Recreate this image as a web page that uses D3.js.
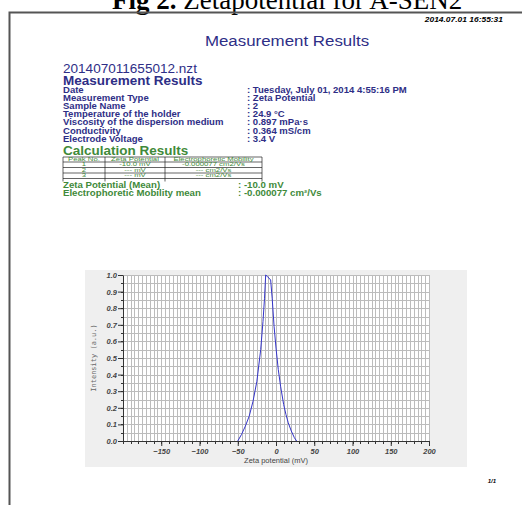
<!DOCTYPE html>
<html>
<head>
<meta charset="utf-8">
<script src="https://cdn.jsdelivr.net/npm/d3@7"></script>
<style>
  body { margin: 0; background: #fff; }
  svg { display: block; font-family: "Liberation Sans", Arial, sans-serif; }
</style>
</head>
<body>
<script>
// ---- data ----
var infoLabels = ["Date", "Measurement Type", "Sample Name", "Temperature of the holder",
                  "Viscosity of the dispersion medium", "Conductivity", "Electrode Voltage"];
var infoValues = ["Tuesday, July 01, 2014 4:55:16 PM", "Zeta Potential", "2", "24.9 \u00b0C",
                  "0.897 mPa\u00b7s", "0.364 mS/cm", "3.4 V"];
var tableHeader = ["Peak No.", "Zeta Potential", "Electrophoretic Mobility"];
var tableRows = [["1", "-10.0 mV", "-0.000077 cm2/Vs"],
                 ["2", "--- mV", "--- cm2/Vs"],
                 ["3", "--- mV", "--- cm2/Vs"]];
var meanLabels = ["Zeta Potential (Mean)", "Electrophoretic Mobility mean"];
var meanValues = ["-10.0 mV", "-0.000077 cm\u00b2/Vs"];

// distribution curve
var zeta = [-50, -45, -40, -35, -30, -25, -20, -17, -15, -13.5, -11, -7, -5, -2.5, 0, 3, 6, 10, 13, 16, 20, 24, 27];
var intensity = [0, 0.04, 0.09, 0.15, 0.24, 0.36, 0.55, 0.72, 0.86, 1.0, 0.99, 0.97, 0.86, 0.69, 0.56, 0.43, 0.33, 0.22, 0.16, 0.11, 0.06, 0.02, 0];
var xTicks = [-150, -100, -50, 0, 50, 100, 150, 200];
var yTicks = [0, 0.1, 0.2, 0.3, 0.4, 0.5, 0.6, 0.7, 0.8, 0.9, 1.0];

var w = 522, h = 505;
var navy = "#2e2e86", green = "#3f8a3a";

var svg = d3.select("body").append("svg")
            .attr("width", w)
            .attr("height", h);

// text helper: the report font is wider than it is tall, so stretch it sideways
function put(g, x, y, txt, size, sx, fill, weight) {
  return g.append("text")
          .attr("transform", "translate(" + x + "," + y + ") scale(" + sx + ",1)")
          .attr("fill", fill || "#000")
          .style("font-size", size + "px")
          .style("font-weight", weight || "normal")
          .text(txt);
}

// figure caption (cut off at top)
svg.append("text")
   .attr("x", 112).attr("y", 9)
   .style("font-family", "'Liberation Serif', 'Times New Roman', serif")
   .style("font-size", "27px")
   .html("<tspan font-weight='bold'>Fig 2.</tspan> Zetapotential for A-SEN2");

// page frame
svg.append("path")
   .attr("d", "M9.5,505 V12.5 H522")
   .attr("fill", "none")
   .attr("stroke", "#555")
   .attr("stroke-width", 2);

// timestamp + header
put(svg, 503, 22, "2014.07.01 16:55:31", 6.5, 1.3, "#000", "bold")
   .attr("text-anchor", "end").style("font-style", "italic");

put(svg, 287, 46, "Measurement Results", 15.5, 1.09, navy)
   .attr("text-anchor", "middle");

put(svg, 63, 72.5, "201407011655012.nzt", 12, 1.13, navy);
put(svg, 63, 85, "Measurement Results", 12.5, 1.08, navy, "bold");

// info block
var info = svg.append("g");
infoLabels.forEach(function(d, i) {
  put(info, 63, 92.5 + i * 8.2, d, 8.3, 1.15, navy, "bold");
  put(info, 247, 92.5 + i * 8.2, ":  " + infoValues[i], 8.3, 1.15, navy, "bold");
});

put(svg, 63, 155, "Calculation Results", 12.5, 1.08, green, "bold");

// results table
var colX = [63, 105, 165, 262];
var rowY = [157, 162, 167.5, 173, 178.5];
var table = svg.append("g");
table.selectAll(".hl").data(rowY).enter().append("line")
     .attr("x1", colX[0]).attr("x2", colX[3])
     .attr("y1", function(d) { return d; }).attr("y2", function(d) { return d; })
     .attr("stroke", "#222").attr("stroke-width", 0.7);
table.selectAll(".vl").data(colX).enter().append("line")
     .attr("x1", function(d) { return d; }).attr("x2", function(d) { return d; })
     .attr("y1", rowY[0]).attr("y2", rowY[4] + 3)
     .attr("stroke", "#222").attr("stroke-width", 0.7);
var allRows = [tableHeader].concat(tableRows);
allRows.forEach(function(r, i) {
  r.forEach(function(c, j) {
    put(table, (colX[j] + colX[j + 1]) / 2, rowY[i] + 4.1, c, 5, 1.55, green)
      .attr("text-anchor", "middle");
  });
});

// means
var means = svg.append("g");
meanLabels.forEach(function(d, i) {
  put(means, 63, 187.5 + i * 8.6, d, 8.4, 1.15, green, "bold");
  put(means, 238, 187.5 + i * 8.6, ":  " + meanValues[i], 8.4, 1.15, green, "bold");
});

// ---- chart ----
svg.append("rect")
   .attr("x", 85).attr("y", 270)
   .attr("width", 382).attr("height", 197)
   .attr("fill", "#efefef");

var x = d3.scaleLinear().domain([-200, 200]).range([123, 429]);
var y = d3.scaleLinear().domain([0, 1]).range([441, 275]);

svg.append("rect")
   .attr("x", x(-200)).attr("y", y(1))
   .attr("width", x(200) - x(-200)).attr("height", y(0) - y(1))
   .attr("fill", "#fff");

var grid = svg.append("g").attr("stroke", "#bcbcbc").attr("stroke-width", 1);
grid.selectAll(".gx").data(d3.range(-200, 201, 5)).enter().append("line")
    .attr("x1", function(d) { return Math.round(x(d)) + 0.5; })
    .attr("x2", function(d) { return Math.round(x(d)) + 0.5; })
    .attr("y1", y(1)).attr("y2", y(0));
grid.selectAll(".gy").data(d3.range(0, 21).map(function(i) { return i * 0.05; })).enter().append("line")
    .attr("y1", function(d) { return Math.round(y(d)) + 0.5; })
    .attr("y2", function(d) { return Math.round(y(d)) + 0.5; })
    .attr("x1", x(-200)).attr("x2", x(200));

// minor ticks
var minor = svg.append("g").attr("stroke", "#333").attr("stroke-width", 1);
minor.selectAll(".mx").data(d3.range(-200, 201, 10)).enter().append("line")
     .attr("x1", function(d) { return Math.round(x(d)) + 0.5; })
     .attr("x2", function(d) { return Math.round(x(d)) + 0.5; })
     .attr("y1", y(0)).attr("y2", y(0) + 3);
minor.selectAll(".my").data(d3.range(0, 20).map(function(i) { return i * 0.05 + 0.05; })).enter().append("line")
     .attr("y1", function(d) { return Math.round(y(d)) + 0.5; })
     .attr("y2", function(d) { return Math.round(y(d)) + 0.5; })
     .attr("x1", x(-200) - 2).attr("x2", x(-200));

var xAxis = svg.append("g")
               .attr("transform", "translate(0," + y(0) + ")")
               .call(d3.axisBottom(x).tickValues(xTicks).tickSize(5).tickSizeOuter(0).tickPadding(3)
                       .tickFormat(d3.format("d")));
var yAxis = svg.append("g")
               .attr("transform", "translate(" + x(-200) + ",0)")
               .call(d3.axisLeft(y).tickValues(yTicks).tickSize(5).tickSizeOuter(0).tickPadding(1)
                       .tickFormat(d3.format(".1f")));
[xAxis, yAxis].forEach(function(a) {
  a.select(".domain").attr("stroke", "#333");
  a.selectAll(".tick line").attr("stroke", "#333");
  a.selectAll("text")
   .attr("fill", "#444")
   .style("font-size", "7.5px").style("font-weight", "bold").style("font-style", "italic")
   .style("font-family", "'Liberation Sans', Arial, sans-serif");
});

// curve
var line = d3.line()
             .x(function(d) { return x(d[0]); })
             .y(function(d) { return y(d[1]); });
svg.append("path")
   .datum(d3.zip(zeta, intensity))
   .attr("d", line)
   .attr("fill", "none")
   .attr("stroke", "#3434c8")
   .attr("stroke-width", 1);

// axis titles
svg.append("text")
   .attr("x", 276).attr("y", 463)
   .attr("text-anchor", "middle")
   .attr("fill", "#444")
   .style("font-size", "7.5px")
   .text("Zeta potential (mV)");

svg.append("text")
   .attr("transform", "translate(96," + y(0.5) + ") rotate(-90)")
   .attr("text-anchor", "middle")
   .attr("fill", "#666")
   .style("font-size", "7px")
   .style("font-family", "'DejaVu Sans Mono', 'Liberation Mono', monospace")
   .text("Intensity (a.u.)");

svg.append("text")
   .attr("x", 496).attr("y", 483)
   .attr("text-anchor", "end")
   .style("font-size", "6px").style("font-weight", "bold").style("font-style", "italic")
   .text("1/1");
</script>
</body>
</html>
